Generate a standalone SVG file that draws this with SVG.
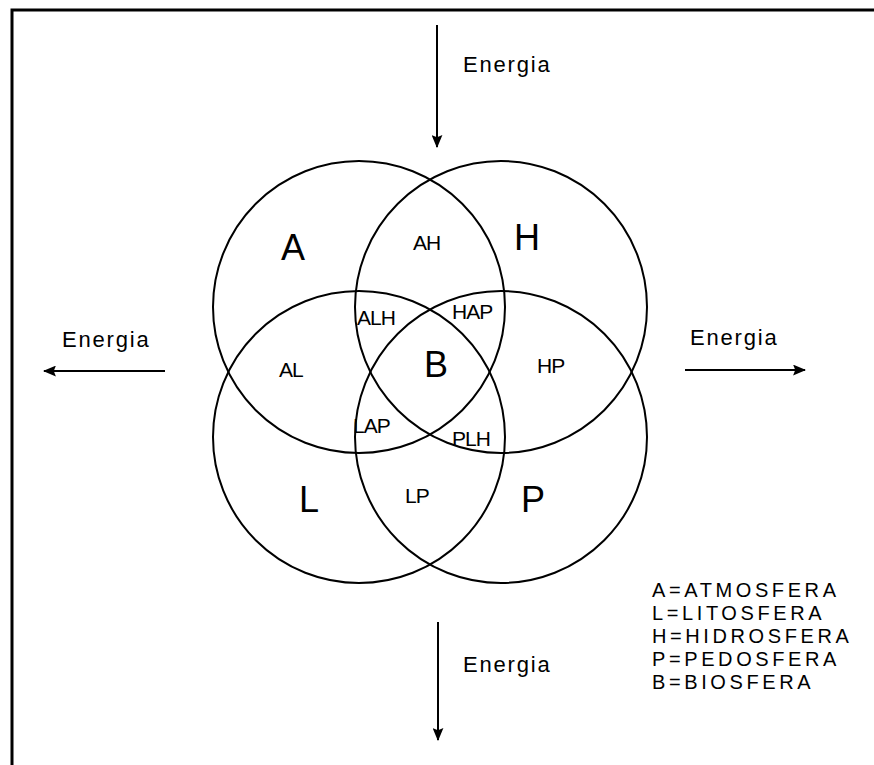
<svg xmlns="http://www.w3.org/2000/svg" width="874" height="765" viewBox="0 0 874 765">
<defs>
<style>
.c{fill:none;stroke:#000;stroke-width:2}
.ln{stroke:#000;stroke-width:2;fill:none}
.t{font-family:"Liberation Sans",Arial,sans-serif;fill:#000}
.big{font-size:36px}
.sm{font-size:21px;letter-spacing:-1px}
.en{font-size:22px;letter-spacing:1.8px}
.lg{font-size:20px;letter-spacing:3.6px}
</style>
<marker id="ah" viewBox="0 0 12 10" refX="11" refY="5" markerWidth="13" markerHeight="11" markerUnits="userSpaceOnUse" orient="auto">
<path d="M0,0 L12,5 L0,10 L2,5 Z" fill="#000"/>
</marker>
</defs>
<rect width="874" height="765" fill="#fff"/>
<path d="M12,765 L12,10 L874,10" fill="none" stroke="#000" stroke-width="3"/>
<g id="A"><circle class="c" cx="359" cy="307" r="146"/><text class="t big" x="281" y="260">A</text></g>
<g id="H"><circle class="c" cx="501" cy="307" r="146"/><text class="t big" x="514" y="250">H</text></g>
<g id="L"><circle class="c" cx="359" cy="437" r="146"/><text class="t big" x="299" y="512">L</text></g>
<g id="P"><circle class="c" cx="501" cy="437" r="146"/><text class="t big" x="521" y="512">P</text></g>
<g id="B"><text class="t big" x="424" y="377">B</text></g>
<g id="regions">
<text class="t sm" x="413" y="250">AH</text>
<text class="t sm" x="357" y="325">ALH</text>
<text class="t sm" x="452" y="319">HAP</text>
<text class="t sm" x="279" y="377">AL</text>
<text class="t sm" x="537" y="373">HP</text>
<text class="t sm" x="353" y="433">LAP</text>
<text class="t sm" x="452" y="446">PLH</text>
<text class="t sm" x="405" y="503">LP</text>
</g>
<g id="connectors">
<line class="ln" x1="437" y1="25" x2="437" y2="147" marker-end="url(#ah)"/>
<line class="ln" x1="438" y1="622" x2="438" y2="740" marker-end="url(#ah)"/>
<line class="ln" x1="165" y1="371" x2="44" y2="371" marker-end="url(#ah)"/>
<line class="ln" x1="685" y1="370" x2="805" y2="370" marker-end="url(#ah)"/>
</g>
<g id="energy-labels">
<text class="t en" x="463" y="72">Energia</text>
<text class="t en" x="62" y="347">Energia</text>
<text class="t en" x="690" y="345">Energia</text>
<text class="t en" x="463" y="672">Energia</text>
</g>
<g id="legend">
<text class="t lg" x="652" y="597">A=ATMOSFERA</text>
<text class="t lg" x="652" y="620">L=LITOSFERA</text>
<text class="t lg" x="652" y="643">H=HIDROSFERA</text>
<text class="t lg" x="652" y="666">P=PEDOSFERA</text>
<text class="t lg" x="652" y="689">B=BIOSFERA</text>
</g>
</svg>
